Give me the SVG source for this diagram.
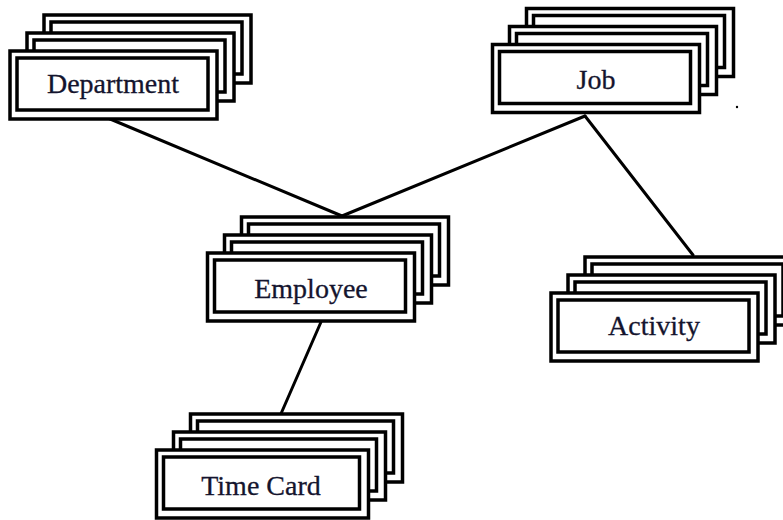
<svg xmlns="http://www.w3.org/2000/svg" width="783" height="520" viewBox="0 0 783 520">
<style>
.o{fill:#fff;stroke:#000;stroke-width:3.5}
.i{fill:none;stroke:#000;stroke-width:3.5}
.t{font-family:"Liberation Serif","Times New Roman",serif;font-size:28px;fill:#14142e;stroke:#14142e;stroke-width:0.3;text-anchor:middle}
.c{stroke:#000;stroke-width:3;fill:none;stroke-linecap:round}
</style>
<defs>
<g id="card">
<rect class="o" x="0" y="0" width="207" height="68"/>
<rect class="i" x="7" y="7" width="191" height="52"/>
</g>
<g id="cardw">
<rect class="o" x="0" y="0" width="212" height="68"/>
<rect class="i" x="7" y="7" width="196" height="52"/>
</g>
</defs>
<rect width="783" height="520" fill="#fff"/>
<g id="connectors">
<line class="c" x1="103" y1="116" x2="342" y2="216"/>
<line class="c" x1="585" y1="116" x2="342" y2="216"/>
<line class="c" x1="585" y1="116" x2="693" y2="255"/>
<line class="c" x1="321" y1="322" x2="280" y2="416"/>
</g>
<g id="department">
<use href="#card" x="44" y="15"/>
<use href="#card" x="27" y="33"/>
<use href="#card" x="10" y="51"/>
<text class="t" x="113" y="93">Department</text>
</g>
<g id="job">
<use href="#card" x="526.5" y="8.5"/>
<use href="#card" x="509.5" y="26.5"/>
<use href="#card" x="492.5" y="44.5"/>
<text class="t" x="596" y="89">Job</text>
</g>
<g id="employee">
<use href="#card" x="241.5" y="217"/>
<use href="#card" x="224.5" y="235"/>
<use href="#card" x="207.5" y="253"/>
<text class="t" x="311" y="298">Employee</text>
</g>
<g id="activity">
<use href="#card" x="585" y="257"/>
<use href="#card" x="568" y="275"/>
<use href="#card" x="551" y="293"/>
<text class="t" x="654" y="335">Activity</text>
</g>
<g id="timecard">
<use href="#cardw" x="190.5" y="414"/>
<use href="#cardw" x="173.5" y="432"/>
<use href="#cardw" x="156.5" y="450"/>
<text class="t" x="261" y="495">Time Card</text>
</g>
<circle cx="737" cy="107" r="1.2" fill="#000"/>
</svg>
